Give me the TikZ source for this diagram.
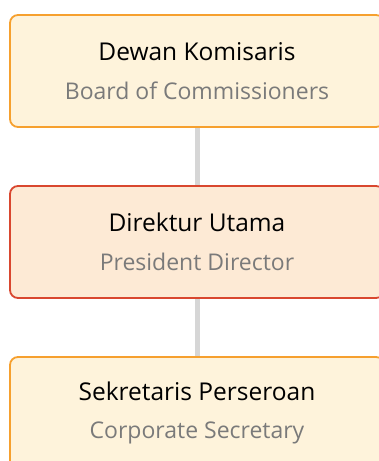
\documentclass[tikz,border=0pt]{standalone}
\usepackage{fontspec}
\setmainfont{Open Sans}
\usepackage{tikz}
\usetikzlibrary{positioning,backgrounds}
\definecolor{boxfill}{HTML}{FEF3DB}
\definecolor{boxline}{HTML}{F6A02E}
\definecolor{topfill}{HTML}{FDEAD5}
\definecolor{topline}{HTML}{D9472F}
\definecolor{subtext}{HTML}{7A7A7A}
\definecolor{linkline}{HTML}{D6D6D6}

\begin{document}
\begin{tikzpicture}[x=1pt,y=1pt,node distance=59pt,
  postbox/.style={draw=boxline,fill=boxfill,line width=1.8pt,rounded corners=8pt,
    minimum width=374pt,minimum height=112pt,outer sep=0pt,align=center,inner sep=0pt},
  headbox/.style={postbox,draw=topline,fill=topfill},
  link/.style={linkline,line width=5pt}]
\useasboundingbox (0,0) rectangle (378,461);
\node[postbox] (dk) at (197,390) {\fontsize{24.5}{28}\selectfont Dewan Komisaris\\[20pt]
   \fontsize{23}{28}\selectfont\color{subtext}Board of Commissioners};
\node[headbox,below=of dk] (du) {\fontsize{24.5}{28}\selectfont Direktur Utama\\[20pt]
   \fontsize{23}{28}\selectfont\color{subtext}President Director};
\node[postbox,below=of du] (sp) {\fontsize{24.5}{28}\selectfont Sekretaris Perseroan\\[20pt]
   \fontsize{23}{28}\selectfont\color{subtext}Corporate Secretary};
\begin{scope}[on background layer]
\draw[link] (dk.south) -- (du.north);
\draw[link] (du.south) -- (sp.north);
\end{scope}
\end{tikzpicture}
\end{document}
